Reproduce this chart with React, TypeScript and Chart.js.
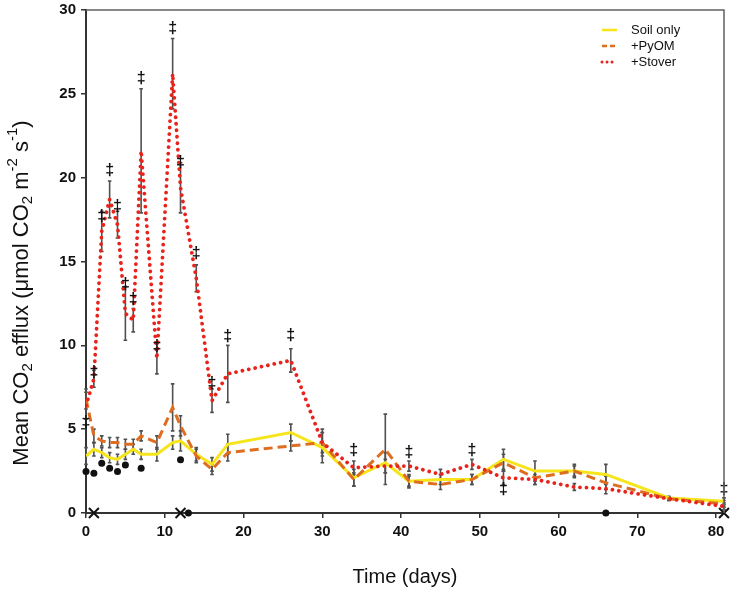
import React, { useEffect, useRef } from "react";
import { Chart, registerables } from "chart.js";
Chart.register(...registerables);

// ---- data ----
const days = [0, 1, 2, 3, 4, 5, 6, 7, 9, 11, 12, 14, 16, 18, 26, 30, 34, 38, 41, 45, 49, 53, 57, 62, 66, 74, 81];
const soilOnly = [3.4, 3.8, 3.6, 3.3, 3.2, 3.5, 3.8, 3.5, 3.5, 4.2, 4.3, 3.5, 2.9, 4.1, 4.8, 3.9, 2.1, 3.0, 1.9, 2.0, 2.0, 3.2, 2.5, 2.5, 2.3, 0.9, 0.7];
const pyom = [6.8, 4.6, 4.3, 4.2, 4.2, 4.1, 4.1, 4.6, 4.2, 6.3, 5.2, 3.4, 2.6, 3.6, 4.0, 4.2, 2.0, 3.8, 1.9, 1.7, 2.0, 3.0, 2.1, 2.5, 1.8, 0.85, 0.55];
const stover = [6.4, 8.0, 16.8, 18.7, 17.2, 11.9, 11.5, 21.6, 9.2, 26.2, 19.4, 14.0, 6.7, 8.3, 9.1, 4.2, 2.7, 2.8, 2.8, 2.3, 2.9, 2.1, 2.0, 1.55, 1.45, 0.85, 0.4];

const soilErr = [0.5, 0.4, 0.3, 0.3, 0.3, 0.3, 0.3, 0.3, 0.4, 0.4, 0.6, 0.4, 0.4, 0.6, 0.5, 0.9, 0.5, 0.6, 0.4, 0.3, 0.3, 0.6, 0.6, 0.4, 0.6, 0.1, 0.2];
const pyomErr = [0.6, 0.4, 0.3, 0.3, 0.3, 0.3, 0.3, 0.3, 0.4, 1.4, 0.6, 0.4, 0.3, 0.5, 0.3, 0.6, 0.4, 2.1, 0.3, 0.3, 0.3, 0.5, 0.4, 0.3, 0.4, 0.1, 0.2];
const stoverErr = [0.8, 0.5, 1.2, 1.1, 0.8, 1.6, 0.7, 3.7, 0.9, 2.1, 1.5, 0.8, 0.7, 1.7, 0.7, 0.8, 0.4, 0.4, 0.3, 0.3, 0.3, 0.4, 0.3, 0.2, 0.3, 0.1, 0.2];

const daggerDays = [0, 1, 2, 3, 4, 5, 6, 7, 9, 11, 12, 14, 16, 18, 26, 34, 41, 49, 53, 81];
const daggerVals = [5.4, 8.4, 17.7, 20.4, 18.3, 13.6, 12.7, 25.9, 9.9, 28.9, 20.9, 15.5, 7.7, 10.5, 10.6, 3.7, 3.6, 3.7, 1.4, 1.4];

const dotDays = [0, 1, 2, 3, 4, 5, 7, 12, 13, 66];
const dotVals = [2.47, 2.37, 2.97, 2.67, 2.47, 2.87, 2.67, 3.17, 0, 0];

const crossDays = [1, 12, 81];
const crossVals = [0, 0, 0];

const seriesNames = ["Soil only", "+PyOM", "+Stover"];
const xTicks = [0, 10, 20, 30, 40, 50, 60, 70, 80];
const yTicks = [0, 5, 10, 15, 20, 25, 30];
const yTitleParts: [string, string][] = [
  ["Mean CO", "n"], ["2", "sub"], [" efflux (μmol CO", "n"], ["2", "sub"],
  [" m", "n"], ["-2", "sup"], [" s", "n"], ["-1", "sup"], [")", "n"],
];

const FONT = '"Liberation Sans", Arial, sans-serif';
const YELLOW = "#f6e51b";
const ORANGE = "#de6d1f";
const RED = "#e8231b";

const pts = (xs: number[], ys: number[]) => xs.map((d, i) => ({ x: d, y: ys[i] }));

const errPlugin = {
  id: "errbars",
  beforeDatasetsDraw(chart: any) {
    const { ctx, scales } = chart;
    const x = scales.x, y = scales.y;
    ctx.save();
    ctx.strokeStyle = "#505050";
    ctx.lineWidth = 1.6;
    const groups: [number[], number[]][] = [
      [soilOnly, soilErr],
      [pyom, pyomErr],
      [stover, stoverErr],
    ];
    groups.forEach(([vals, errs]) => {
      days.forEach((d, i) => {
        const px = x.getPixelForValue(d);
        const top = y.getPixelForValue(vals[i] + errs[i]);
        const bot = y.getPixelForValue(Math.max(0, vals[i] - errs[i]));
        ctx.beginPath();
        ctx.moveTo(px, top);
        ctx.lineTo(px, bot);
        ctx.moveTo(px - 1.8, top);
        ctx.lineTo(px + 1.8, top);
        ctx.moveTo(px - 1.8, bot);
        ctx.lineTo(px + 1.8, bot);
        ctx.stroke();
      });
    });
    ctx.restore();
  },
};

const overlayPlugin = {
  id: "overlay",
  afterDatasetsDraw(chart: any) {
    const { ctx, scales, chartArea } = chart;
    const x = scales.x, y = scales.y;
    ctx.save();
    // daggers
    ctx.fillStyle = "#111";
    ctx.font = `bold 16px ${FONT}`;
    ctx.textAlign = "center";
    ctx.textBaseline = "middle";
    daggerDays.forEach((d, i) => {
      ctx.fillText("‡", x.getPixelForValue(d), y.getPixelForValue(daggerVals[i]));
    });
    // frame
    ctx.strokeStyle = "#606060";
    ctx.lineWidth = 1.5;
    ctx.beginPath();
    ctx.moveTo(chartArea.left, chartArea.top);
    ctx.lineTo(chartArea.right, chartArea.top);
    ctx.lineTo(chartArea.right, chartArea.bottom);
    ctx.stroke();
    // legend
    const lx = chartArea.right - 122;
    const tx = chartArea.right - 93;
    const rows = [chartArea.top + 20, chartArea.top + 36, chartArea.top + 52];
    const styles = [
      { c: YELLOW, dash: [] as number[], w: 2.5, cap: "butt" },
      { c: ORANGE, dash: [5, 3], w: 2.5, cap: "butt" },
      { c: RED, dash: [0.01, 5], w: 3, cap: "round" },
    ];
    styles.forEach((s, i) => {
      ctx.strokeStyle = s.c;
      ctx.lineWidth = s.w;
      ctx.lineCap = s.cap;
      ctx.setLineDash(s.dash);
      ctx.beginPath();
      ctx.moveTo(lx, rows[i]);
      ctx.lineTo(lx + 15, rows[i]);
      ctx.stroke();
    });
    ctx.setLineDash([]);
    ctx.fillStyle = "#111";
    ctx.font = `13px ${FONT}`;
    ctx.textAlign = "left";
    ctx.textBaseline = "middle";
    seriesNames.forEach((n, i) => ctx.fillText(n, tx, rows[i]));

    // y axis title with sub/superscripts
    const big = `22px ${FONT}`;
    const small = `15px ${FONT}`;
    let total = 0;
    yTitleParts.forEach(([t, k]) => {
      ctx.font = k === "n" ? big : small;
      total += ctx.measureText(t).width;
    });
    ctx.translate(20, 293);
    ctx.rotate(-Math.PI / 2);
    ctx.textBaseline = "alphabetic";
    let cx = -total / 2;
    yTitleParts.forEach(([t, k]) => {
      ctx.font = k === "n" ? big : small;
      const dy = k === "sub" ? 12 : k === "sup" ? -3 : 8;
      ctx.fillText(t, cx, dy);
      cx += ctx.measureText(t).width;
    });
    ctx.restore();
  },
};

export default function App() {
  const ref = useRef<HTMLCanvasElement | null>(null);
  useEffect(() => {
    if (!ref.current) return;
    const chart = new Chart(ref.current, {
      type: "line",
      data: {
        datasets: [
          {
            label: "crosses",
            data: pts(crossDays, crossVals),
            showLine: false,
            pointStyle: "crossRot",
            pointRadius: 7,
            borderColor: "#111",
            borderWidth: 2,
            clip: false as any,
            order: 0,
          },
          {
            label: "dots",
            data: pts(dotDays, dotVals),
            showLine: false,
            pointStyle: "circle",
            pointRadius: 3.5,
            backgroundColor: "#111",
            borderColor: "#111",
            borderWidth: 0,
            clip: false as any,
            order: 0,
          },
          {
            label: seriesNames[2],
            data: pts(days, stover),
            borderColor: RED,
            borderWidth: 3.8,
            borderDash: [0.01, 6.5],
            borderCapStyle: "round",
            pointRadius: 0,
            tension: 0,
            order: 1,
          },
          {
            label: seriesNames[1],
            data: pts(days, pyom),
            borderColor: ORANGE,
            borderWidth: 3,
            borderDash: [9, 5],
            pointRadius: 0,
            tension: 0,
            order: 2,
          },
          {
            label: seriesNames[0],
            data: pts(days, soilOnly),
            borderColor: YELLOW,
            borderWidth: 3,
            pointRadius: 0,
            tension: 0,
            order: 3,
          },
        ],
      },
      options: {
        animation: false,
        responsive: true,
        maintainAspectRatio: false,
        layout: { padding: { left: 0, right: 9, top: 10, bottom: 0 } },
        plugins: { legend: { display: false }, tooltip: { enabled: false } },
        scales: {
          x: {
            type: "linear",
            min: 0,
            max: 81,
            afterBuildTicks: (s: any) => {
              s.ticks = xTicks.map((v) => ({ value: v }));
            },
            afterFit: (s: any) => {
              s.height = 80;
              s.paddingLeft = 0;
              s.paddingRight = 0;
            },
            grid: { drawOnChartArea: false, drawTicks: true, tickLength: 5, color: "#333", lineWidth: 1.5 },
            border: { display: true, color: "#333", width: 2 },
            ticks: { color: "#111", font: { family: FONT, size: 15, weight: "bold" }, padding: 5, maxRotation: 0 },
            title: { display: true, text: "Time (days)", color: "#111", font: { family: FONT, size: 20 }, padding: { top: 14 } },
          },
          y: {
            min: 0,
            max: 30,
            afterBuildTicks: (s: any) => {
              s.ticks = yTicks.map((v) => ({ value: v }));
            },
            afterFit: (s: any) => {
              s.width = 86;
              s.paddingTop = 0;
              s.paddingBottom = 0;
            },
            grid: { drawOnChartArea: false, drawTicks: true, tickLength: 5, color: "#333", lineWidth: 1.5 },
            border: { display: true, color: "#333", width: 2 },
            ticks: { color: "#111", font: { family: FONT, size: 15, weight: "bold" }, padding: 5 },
            title: { display: false },
          },
        },
      },
      plugins: [errPlugin, overlayPlugin],
    });
    return () => chart.destroy();
  }, []);
  return (
    <div style={{ position: "absolute", left: 0, top: 0, width: 733, height: 593 }}>
      <canvas ref={ref} />
    </div>
  );
}
